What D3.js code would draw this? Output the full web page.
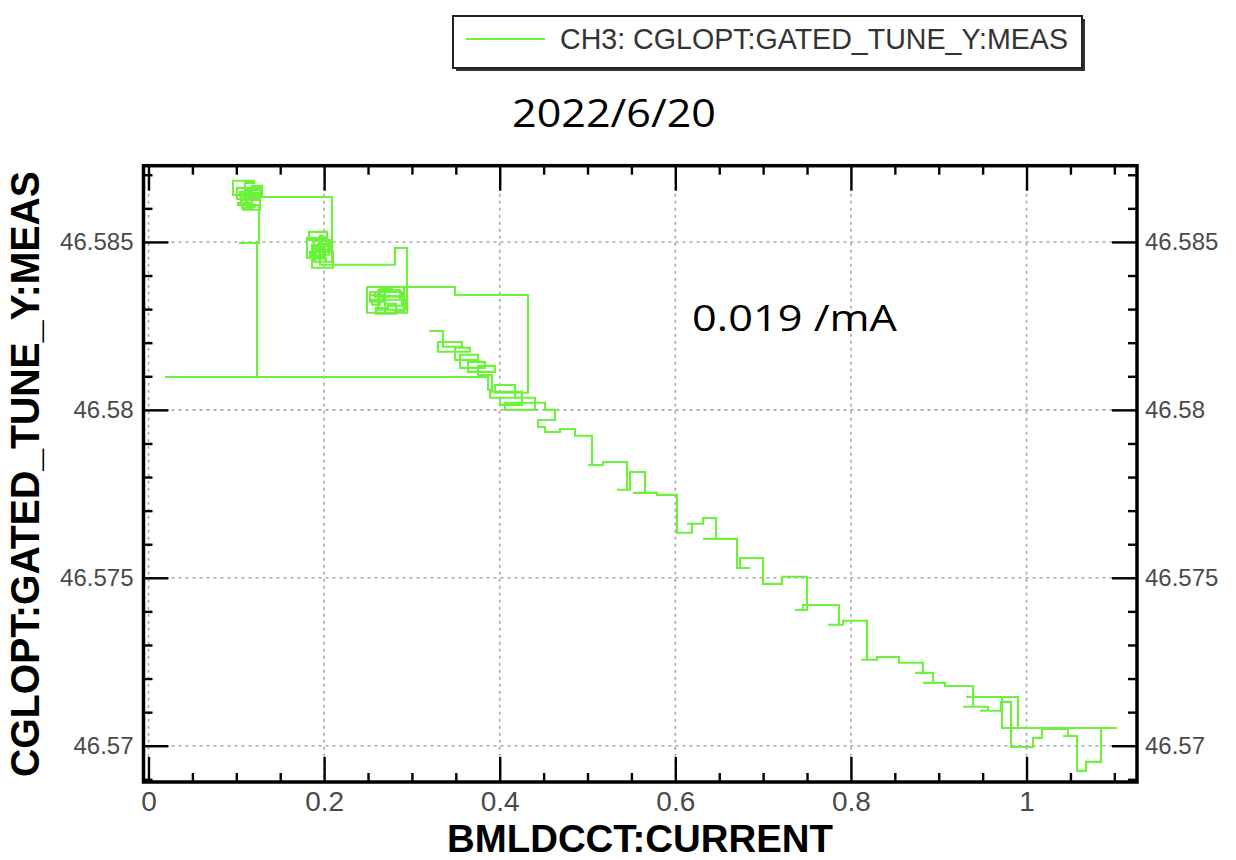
<!DOCTYPE html>
<html>
<head>
<meta charset="utf-8">
<script src="https://cdn.jsdelivr.net/npm/d3@7"></script>
<style>
  html, body { margin: 0; padding: 0; background: #fff; }
  svg { display: block; }
</style>
</head>
<body>
<svg id="chart" width="1236" height="860"></svg>
<script>
// Beam current (mA) samples, in acquisition order
const current = [
  0.3195, 0.3354, 0.3571, 0.3297, 0.3662, 0.3491, 0.3753, 0.3548, 0.3833, 0.3639,
  0.3946, 0.3753, 0.3912, 0.3867, 0.0188, 0.1236, 0.1031, 0.1259, 0.1054, 0.1293,
  0.1008, 0.1270, 0.1076, 0.1179, 0.0962, 0.1202, 0.1099,
  0.1156, 0.1042, 0.1224, 0.1088, 0.1247, 0.1122, 0.1019, 0.1213, 0.1110, 0.1270, 0.1065, 0.1179,
  0.1293, 0.2090, 0.1896,
  0.2067, 0.1828, 0.2033, 0.1805, 0.2010, 0.1862, 0.2101,
  0.1931, 0.2044, 0.1874, 0.1988, 0.1839, 0.2079, 0.1908, 0.2022, 0.1885, 0.2056, 0.1942, 0.1976,
  0.1953, 0.2808, 0.2944,
  0.2694, 0.2523, 0.2864, 0.2614, 0.2921, 0.2546,
  0.2637, 0.2773, 0.2580, 0.2842, 0.2671, 0.2523, 0.2887, 0.2728, 0.2591, 0.2819, 0.2694, 0.2910,
  0.2808, 0.2489, 0.3491, 0.4322,
  0.3946, 0.4174, 0.3890, 0.4254, 0.4003, 0.4402, 0.4060, 0.4516, 0.4630, 0.4436,
  0.4516, 0.4687, 0.4858, 0.5051, 0.5006, 0.5177, 0.5450, 0.5336, 0.5484, 0.5655,
  0.5518, 0.5792, 0.6019, 0.6190, 0.6133, 0.6315, 0.6464, 0.6315, 0.6703, 0.6851,
  0.6737, 0.6999, 0.7215, 0.7500, 0.7363, 0.7454, 0.7864, 0.7739, 0.7910, 0.8183,
  0.8115, 0.8297, 0.8548, 0.8821, 0.8730, 0.8935, 0.8821, 0.9072, 0.9391, 0.9277,
  0.9562, 0.9470, 0.9710, 0.9824, 1.0074, 1.0176, 1.0473, 1.0416, 1.0575, 1.0677,
  1.0848, 0.9903, 0.9311, 0.9721, 1.1031
];

// Gated vertical tune readings matching each current sample
const tune = [
  46.58235, 46.58188, 46.58202, 46.58173, 46.58185, 46.58149, 46.58164, 46.58125, 46.58143, 46.58113,
  46.58131, 46.58104, 46.58060, 46.58098, 46.58098, 46.58497, 46.58497, 46.58610, 46.58646, 46.58661,
  46.58628, 46.58596, 46.58616, 46.58640, 46.58682, 46.58676, 46.58652,
  46.58649, 46.58637, 46.58631, 46.58625, 46.58643, 46.58616, 46.58610, 46.58605, 46.58655, 46.58625, 46.58602, 46.58667,
  46.58634, 46.58441, 46.58476,
  46.58506, 46.58530, 46.58512, 46.58453, 46.58491, 46.58423, 46.58471,
  46.58494, 46.58476, 46.58485, 46.58459, 46.58471, 46.58488, 46.58450, 46.58441, 46.58503, 46.58462, 46.58476, 46.58518,
  46.58432, 46.58482, 46.58289,
  46.58342, 46.58328, 46.58357, 46.58298, 46.58328, 46.58313,
  46.58360, 46.58351, 46.58337, 46.58339, 46.58322, 46.58351, 46.58310, 46.58304, 46.58286, 46.58316, 46.58366, 46.58295,
  46.58289, 46.58366, 46.58342, 46.58051,
  46.58074, 46.58036, 46.58054, 46.58015, 46.58036, 46.58000, 46.58021, 46.58000, 46.57970, 46.57949,
  46.57934, 46.57943, 46.57923, 46.57836, 46.57836, 46.57845, 46.57762, 46.57762, 46.57815, 46.57753,
  46.57753, 46.57747, 46.57634, 46.57661, 46.57661, 46.57678, 46.57616, 46.57616, 46.57529, 46.57529,
  46.57559, 46.57482, 46.57503, 46.57404, 46.57404, 46.57419, 46.57360, 46.57360, 46.57372, 46.57256,
  46.57256, 46.57264, 46.57247, 46.57217, 46.57217, 46.57187, 46.57187, 46.57178, 46.57116, 46.57116,
  46.57104, 46.57104, 46.57130, 46.56996, 46.57023, 46.57050, 46.57029, 46.57029, 46.56925, 46.56952,
  46.57053, 46.57145, 46.57145, 46.57053, 46.57053
];

const xTickValues = [0, 0.2, 0.4, 0.6, 0.8, 1];
const xTickLabels = ["0", "0.2", "0.4", "0.6", "0.8", "1"];
const yTickValues = [46.57, 46.575, 46.58, 46.585];
const yTickLabels = ["46.57", "46.575", "46.58", "46.585"];
const xMinorValues = [0.05, 0.1, 0.15, 0.25, 0.3, 0.35, 0.45, 0.5, 0.55, 0.65, 0.7, 0.75, 0.85, 0.9, 0.95, 1.05, 1.1];
const yMinorValues = [46.569, 46.571, 46.572, 46.573, 46.574, 46.576, 46.577, 46.578, 46.579,
                      46.581, 46.582, 46.583, 46.584, 46.586, 46.587];

const seriesName = "CH3: CGLOPT:GATED_TUNE_Y:MEAS";
const xTitle = "BMLDCCT:CURRENT";
const yTitle = "CGLOPT:GATED_TUNE_Y:MEAS";
const dateText = "2022/6/20";
const slopeText = "0.019 /mA";

const green = "#6cf23a";

const svg = d3.select("#chart");

// Plot frame
const frame = { left: 143.5, right: 1137, top: 165.7, bottom: 782 };

const x = d3.scaleLinear().domain([-0.0057, 1.1258]).range([frame.left, frame.right]);
const y = d3.scaleLinear().domain([46.56892, 46.58727]).range([frame.bottom, frame.top]);

const labelFont = "'Liberation Sans', Arial, sans-serif";
const narrowFont = "'Liberation Sans Narrow', 'Liberation Sans', Arial, sans-serif";

// Dotted grid at major ticks
const grid = svg.append("g").attr("class", "grid");
grid.selectAll("line.gx").data(xTickValues).join("line")
  .attr("class", "gx")
  .attr("x1", d => x(d)).attr("x2", d => x(d))
  .attr("y1", frame.top).attr("y2", frame.bottom)
  .attr("stroke", "#a8a8a8").attr("stroke-width", 1.6).attr("stroke-dasharray", "3,4");
grid.selectAll("line.gy").data(yTickValues).join("line")
  .attr("class", "gy")
  .attr("y1", d => y(d)).attr("y2", d => y(d))
  .attr("x1", frame.left).attr("x2", frame.right)
  .attr("stroke", "#a8a8a8").attr("stroke-width", 1.6).attr("stroke-dasharray", "3,4");

// Measurement trace, drawn as a step line
const data = current.map((c, i) => [c, tune[i]]);
const line = d3.line()
  .x(d => x(d[0]))
  .y(d => y(d[1]))
  .curve(d3.curveStepAfter);

svg.append("path")
  .datum(data)
  .attr("fill", "none")
  .attr("stroke", green)
  .attr("stroke-width", 2.1)
  .attr("d", line);

// Axes with inward ticks on all four sides
function styleAxis(g) {
  g.select(".domain").remove();
  g.selectAll(".tick line").attr("stroke", "#000").attr("stroke-width", 2.4);
  g.selectAll(".tick text").attr("fill", "#4a4a4a");
}

const majorLen = 25, minorLen = 9;

// bottom
svg.append("g").attr("transform", `translate(0,${frame.bottom})`)
  .call(d3.axisBottom(x).tickValues(xTickValues).tickSize(-majorLen).tickPadding(9)
    .tickFormat((d, i) => xTickLabels[i]))
  .call(styleAxis)
  .call(g => g.selectAll(".tick text")
    .attr("font-family", narrowFont).attr("font-size", 28));
svg.append("g").attr("transform", `translate(0,${frame.bottom})`)
  .call(d3.axisBottom(x).tickValues(xMinorValues).tickSize(-minorLen).tickFormat(""))
  .call(styleAxis);

// top
svg.append("g").attr("transform", `translate(0,${frame.top})`)
  .call(d3.axisTop(x).tickValues(xTickValues).tickSize(-majorLen).tickFormat(""))
  .call(styleAxis);
svg.append("g").attr("transform", `translate(0,${frame.top})`)
  .call(d3.axisTop(x).tickValues(xMinorValues).tickSize(-minorLen).tickFormat(""))
  .call(styleAxis);

// left
svg.append("g").attr("transform", `translate(${frame.left},0)`)
  .call(d3.axisLeft(y).tickValues(yTickValues).tickSize(-majorLen).tickPadding(10)
    .tickFormat((d, i) => yTickLabels[i]))
  .call(styleAxis)
  .call(g => g.selectAll(".tick text")
    .attr("font-family", labelFont).attr("font-size", 24));
svg.append("g").attr("transform", `translate(${frame.left},0)`)
  .call(d3.axisLeft(y).tickValues(yMinorValues).tickSize(-minorLen).tickFormat(""))
  .call(styleAxis);

// right
svg.append("g").attr("transform", `translate(${frame.right},0)`)
  .call(d3.axisRight(y).tickValues(yTickValues).tickSize(-majorLen).tickPadding(8)
    .tickFormat((d, i) => yTickLabels[i]))
  .call(styleAxis)
  .call(g => g.selectAll(".tick text")
    .attr("font-family", labelFont).attr("font-size", 24));
svg.append("g").attr("transform", `translate(${frame.right},0)`)
  .call(d3.axisRight(y).tickValues(yMinorValues).tickSize(-minorLen).tickFormat(""))
  .call(styleAxis);

// Frame
svg.append("rect")
  .attr("x", frame.left).attr("y", frame.top)
  .attr("width", frame.right - frame.left).attr("height", frame.bottom - frame.top)
  .attr("fill", "none").attr("stroke", "#000").attr("stroke-width", 3.5);

// Axis titles
svg.append("text")
  .attr("x", 640).attr("y", 852)
  .attr("text-anchor", "middle")
  .attr("font-family", narrowFont).attr("font-weight", "bold").attr("font-size", 39)
  .attr("textLength", 386).attr("lengthAdjust", "spacingAndGlyphs")
  .attr("fill", "#000")
  .text(xTitle);

svg.append("text")
  .attr("transform", "translate(39,474) rotate(-90)")
  .attr("text-anchor", "middle")
  .attr("font-family", narrowFont).attr("font-weight", "bold").attr("font-size", 40)
  .attr("textLength", 606).attr("lengthAdjust", "spacingAndGlyphs")
  .attr("fill", "#000")
  .text(yTitle);

// Date and slope annotations
svg.append("text")
  .attr("x", 512).attr("y", 127)
  .attr("font-family", "'Open Sans', 'Liberation Sans', sans-serif").attr("font-size", 39)
  .attr("textLength", 204).attr("lengthAdjust", "spacingAndGlyphs")
  .attr("fill", "#000")
  .text(dateText);

svg.append("text")
  .attr("x", 692).attr("y", 331)
  .attr("font-family", "'Open Sans', 'Liberation Sans', sans-serif").attr("font-size", 37)
  .attr("textLength", 205).attr("lengthAdjust", "spacingAndGlyphs")
  .attr("fill", "#000")
  .text(slopeText);

// Legend
const legend = svg.append("g");
legend.append("rect")
  .attr("x", 456).attr("y", 19).attr("width", 629).attr("height", 52)
  .attr("fill", "#333");
legend.append("rect")
  .attr("x", 453).attr("y", 16).attr("width", 629).attr("height", 52)
  .attr("fill", "#fff").attr("stroke", "#222").attr("stroke-width", 2);
legend.append("line")
  .attr("x1", 466).attr("x2", 545).attr("y1", 39).attr("y2", 39)
  .attr("stroke", green).attr("stroke-width", 2);
legend.append("text")
  .attr("x", 560).attr("y", 49)
  .attr("font-family", narrowFont).attr("font-size", 29)
  .attr("textLength", 508).attr("lengthAdjust", "spacingAndGlyphs")
  .attr("fill", "#333")
  .text(seriesName);
</script>
</body>
</html>
